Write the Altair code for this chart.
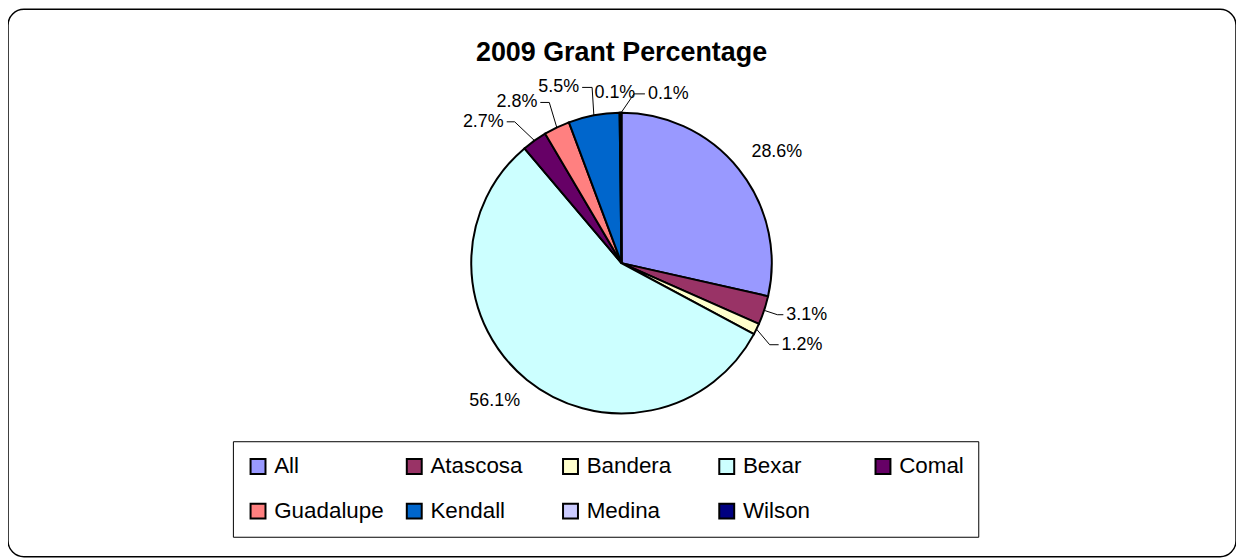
import math
import pandas as pd
import altair as alt

# ---- data ----
categories = ["All", "Atascosa", "Bandera", "Bexar", "Comal",
              "Guadalupe", "Kendall", "Medina", "Wilson"]
values = [28.6, 3.1, 1.2, 56.1, 2.7, 2.8, 5.5, 0.1, 0.1]
colors = ["#9999FF", "#993366", "#FFFFCC", "#CCFFFF", "#660066",
          "#FF8080", "#0066CC", "#CCCCFF", "#000080"]
title_text = "2009 Grant Percentage"

# ---- label layout (style parameters) ----
label_radius = [192, 165, 170, 188, 178, 177, 179, 171, 170.5]
label_nudge = [3, 0, 2.8, 3.7, -1.7, 1.3, 1.1, -1.7, 4.4]
leader_run = [0, 6, 9, 0, -8, -9, -10, 0, 11]

CX, CY, R = 616.5, 255.0, 151.0

df = pd.DataFrame({"cat": categories, "val": values, "idx": range(len(values))})
df["lab"] = [f"{v:.1f}%" for v in values]

total = sum(values)
cum = 0.0
line_rows, text_rows = [], []
for i, v in enumerate(values):
    mid = (cum + v / 2) / total * 2 * math.pi
    cum += v
    a2 = mid + math.radians(label_nudge[i])
    ex, ey = CX + R * math.sin(mid), CY - R * math.cos(mid)
    bx, by = CX + label_radius[i] * math.sin(a2), CY - label_radius[i] * math.cos(a2)
    run = leader_run[i]
    if run == 0:
        text_rows.append({"cat": categories[i], "lab": df["lab"][i], "tx": bx, "ty": by, "al": "center"})
    else:
        ox = bx + run
        line_rows += [
            {"cat": categories[i], "k": 0, "px": ex, "py": ey},
            {"cat": categories[i], "k": 1, "px": bx, "py": by},
            {"cat": categories[i], "k": 2, "px": ox, "py": by},
        ]
        sgn = 1 if run > 0 else -1
        text_rows.append({"cat": categories[i], "lab": df["lab"][i], "tx": ox + sgn * 3,
                          "ty": by, "al": "left" if run > 0 else "right"})

lines_df = pd.DataFrame(line_rows)
text_df = pd.DataFrame(text_rows)

pie = alt.Chart(df).mark_arc(outerRadius=R, stroke="black", strokeWidth=2).encode(
    x=alt.value(CX), y=alt.value(CY),
    theta=alt.Theta("val:Q", stack=True),
    order=alt.Order("idx:Q"),
    color=alt.Color(
        "cat:N",
        sort=categories,
        scale=alt.Scale(domain=categories, range=colors),
        legend=alt.Legend(
            title=None, orient="none", legendX=226, legendY=434,
            direction="horizontal", columns=5, gridAlign="all",
            symbolType="square", symbolSize=225, symbolStrokeColor="black",
            symbolStrokeWidth=2, symbolOpacity=1,
            labelFont="Liberation Sans", labelFontSize=22.5, labelColor="black",
            labelOffset=5, labelLimit=0, columnPadding=18, rowPadding=21,
            padding=14, strokeColor="black", fillColor="white",
        ),
    ),
)

leaders = alt.Chart(lines_df).mark_line(color="black", strokeWidth=1).encode(
    x=alt.X("px:Q", scale=None, axis=None),
    y=alt.Y("py:Q", scale=None, axis=None),
    detail="cat:N",
    order="k:Q",
)

def txt(align):
    return alt.Chart(text_df[text_df["al"] == align]).mark_text(
        font="Liberation Sans", fontSize=18, color="black", align=align, baseline="middle"
    ).encode(
        x=alt.X("tx:Q", scale=None, axis=None),
        y=alt.Y("ty:Q", scale=None, axis=None),
        text="lab:N",
    )

title = alt.Chart(pd.DataFrame({"t": [title_text]})).mark_text(
    font="Liberation Sans", fontSize=27, fontWeight="bold", color="black",
    align="center", baseline="middle"
).encode(x=alt.value(CX), y=alt.value(44), text="t:N")

chart = alt.layer(pie, leaders, txt("left"), txt("right"), txt("center"), title).properties(
    width=1234, height=550, autosize="none", padding=0
).configure_view(stroke="black", strokeWidth=1.5, cornerRadius=16)

chart.save("out.html", embed_options={"renderer": "svg", "actions": False})
